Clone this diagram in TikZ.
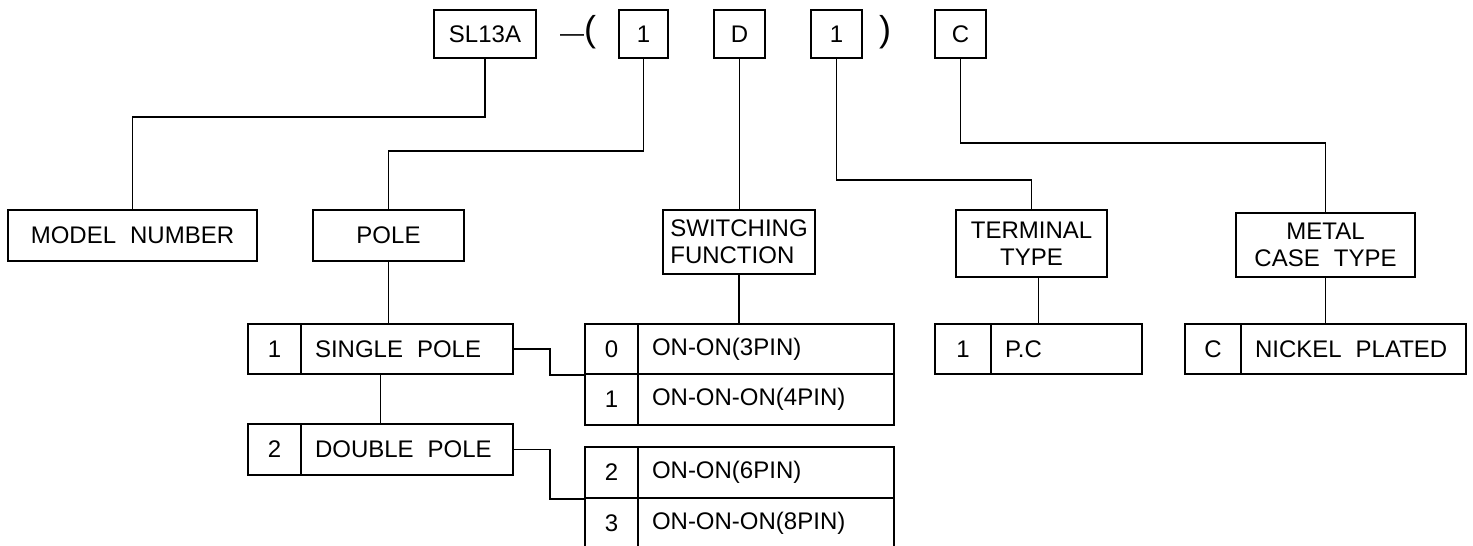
\documentclass[tikz,border=0pt]{standalone}
\usepackage{fontspec}
\setmainfont{Liberation Sans}
\usetikzlibrary{calc}
\tikzset{
  box/.style={draw, line width=1.8pt, inner sep=0pt, font=\fontsize{24}{27}\selectfont},
  link/.style={line width=1.8pt},
  plain/.style={inner sep=0pt, font=\fontsize{24}{27}\selectfont},
}
\newcommand\wsp{\kern14pt\relax}
\newcommand\cellbox[7]{%
  \node[box,#1,minimum width={(#5-#3)*1pt},minimum height={(#6-#4)*1pt}] (#2) at ({(#3+#5)/2},{(#4+#6)/2}) {#7};}
\newcommand\desccell[6]{%
  \node[box,align=left,inner xsep=14pt,text width={(#4-#2-28)*1pt},minimum height={(#5-#3)*1pt}] (#1) at ({(#2+#4)/2},{(#3+#5)/2}) {#6};}
\begin{document}
\begin{tikzpicture}[x=1pt,y=-1pt]
\useasboundingbox (0,0) rectangle (1473,546);
\clip (0,0) rectangle (1473,546);
% top row
\cellbox{}{sl}{434}{10}{536}{58}{SL13A}
\cellbox{}{tA}{619}{10}{668}{58}{1}
\cellbox{}{tD}{714}{10}{765}{58}{D}
\cellbox{}{tB}{811}{10}{862}{58}{1}
\cellbox{}{tC}{935}{10}{986}{58}{C}
\node[plain] (popen) at (578,32) {—{\fontsize{36}{36}\selectfont (}};
\node[plain] (pclose) at (885,32) {\fontsize{36}{36}\selectfont )};
% level 2
\cellbox{}{model}{8}{210}{257}{261}{MODEL\wsp NUMBER}
\cellbox{}{pole}{313}{210}{464}{261}{POLE}
\cellbox{align=left}{swf}{663}{210}{815}{274}{SWITCHING\\FUNCTION}
\cellbox{align=center}{term}{956}{210}{1107}{277}{TERMINAL\\TYPE}
\cellbox{align=center}{metal}{1236}{213}{1415}{277}{METAL\\CASE\wsp TYPE}
% level 3 tables
\cellbox{}{spAn}{248}{324}{301}{374}{1}
\desccell{spAt}{301}{324}{513}{374}{SINGLE\wsp POLE}
\cellbox{}{spBn}{248}{424}{301}{475}{2}
\desccell{spBt}{301}{424}{513}{475}{DOUBLE\wsp POLE}
\cellbox{}{swAn}{585}{324}{638}{374}{0}
\desccell{swAt}{638}{324}{894}{374}{ON-ON(3PIN)}
\cellbox{}{swBn}{585}{374}{638}{425}{1}
\desccell{swBt}{638}{374}{894}{425}{ON-ON-ON(4PIN)}
\cellbox{}{swCn}{585}{447}{638}{498}{2}
\desccell{swCt}{638}{447}{894}{498}{ON-ON(6PIN)}
\cellbox{}{swDn}{585}{498}{638}{549}{3}
\desccell{swDt}{638}{498}{894}{549}{ON-ON-ON(8PIN)}
\cellbox{}{pcn}{935}{324}{991}{374}{1}
\desccell{pct}{991}{324}{1142}{374}{P.C}
\cellbox{}{nkn}{1185}{324}{1241}{374}{C}
\desccell{nkt}{1241}{324}{1466}{374}{NICKEL\wsp PLATED}
% connectors
\draw[link] (sl.south) -- ++(0,58) -| (model.north);
\draw[link] (tA.south) -- ++(0,92) -| (pole.north);
\draw[link] (tD.south) -- (tD.south |- swf.north);
\draw[link] (tB.south) -- ++(0,121) -| (term.north);
\draw[link] (tC.south) -- ++(0,84) -| (metal.north);
\draw[link] (pole.south) -- (pole.south |- spAt.north);
\coordinate (spmidA) at ($(spAn.south west)!0.5!(spAt.south east)$);
\coordinate (spmidB) at ($(spBn.north west)!0.5!(spBt.north east)$);
\draw[link] (spmidA) -- (spmidB);
\draw[link] (spAt.east) -- ++(36,0) |- (swAn.south west);
\draw[link] (spBt.east) -- ++(36,0) |- (swCn.south west);
\draw[link] (swf.south) -- (swf.south |- swAt.north);
\coordinate (pcmid) at ($(pcn.north west)!0.5!(pct.north east)$);
\draw[link] (pcmid) -- (pcmid |- term.south);
\draw[link] (metal.south) -- (metal.south |- nkt.north);
\end{tikzpicture}
\end{document}
